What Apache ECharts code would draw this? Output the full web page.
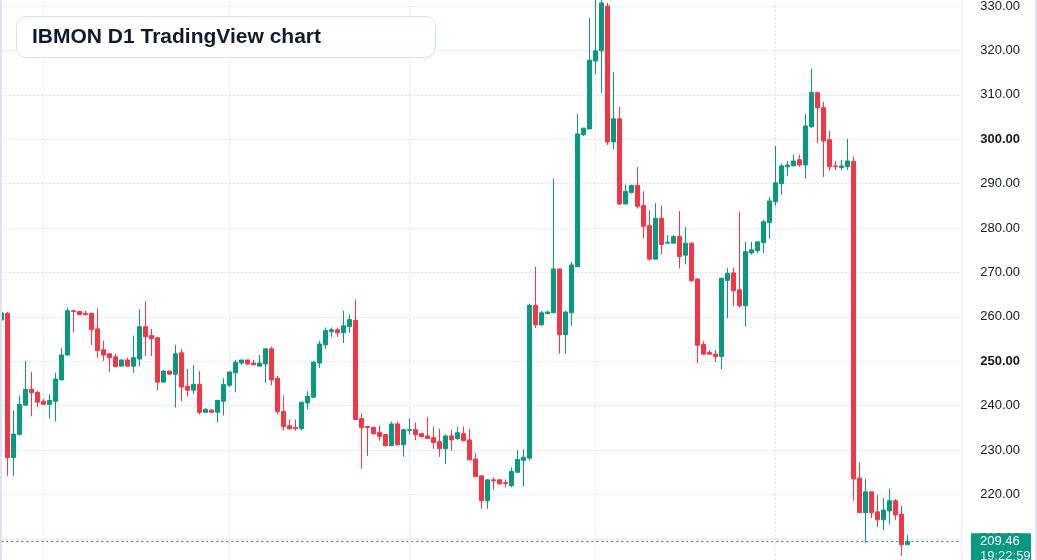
<!DOCTYPE html>
<html>
<head>
<meta charset="utf-8">
<title>IBMON D1 TradingView chart</title>
<script src="https://cdn.jsdelivr.net/npm/echarts@6.0.0/dist/echarts.min.js"></script>
<style>
    html, body { margin: 0; padding: 0; background: #ffffff; }
    #main { width: 1037px; height: 560px; }
</style>
</head>
<body>
<div id="main"></div>
<script>
var chartTitle = 'IBMON D1 TradingView chart';
var firstDay = '2025-07-25';   // first (half hidden) candle
var dayCount = 161;            // candles + empty space on the right
var lastPrice = 209.46;
var countdown = '19:22:59';

// [open, close, low, high]
var candles = [
    [259.3, 260.9, 259.0, 261.2],
    [260.8, 228.3, 224.2, 261.1], [228.3, 233.6, 224.2, 238.9], [233.5, 240.3, 233.3, 242.3], [240.1, 243.7, 240.1, 250.1],
    [243.7, 242.9, 237.6, 247.6], [243.0, 240.8, 239.7, 243.3], [241.0, 240.3, 240.3, 241.5], [240.3, 241.2, 237.1, 242.6],
    [241.0, 246.0, 236.5, 247.4], [245.8, 251.4, 245.8, 253.0], [251.4, 261.4, 251.4, 262.1], [261.4, 261.2, 256.5, 261.4],
    [261.2, 260.5, 260.4, 261.4], [260.8, 260.5, 260.3, 261.4], [260.8, 257.1, 253.7, 260.9], [257.3, 252.4, 250.8, 261.9],
    [252.6, 251.4, 250.1, 254.6], [251.7, 250.8, 247.6, 251.7], [251.0, 248.8, 248.8, 251.7], [248.9, 250.3, 248.9, 250.3],
    [250.3, 248.9, 248.9, 250.8], [248.9, 250.8, 247.4, 255.8], [250.5, 257.8, 248.9, 261.7], [257.8, 255.5, 251.2, 263.5],
    [255.8, 255.1, 251.2, 257.3], [255.3, 245.3, 243.5, 255.5], [245.3, 247.8, 245.3, 248.0], [247.8, 247.1, 246.9, 247.8],
    [247.1, 251.7, 239.6, 253.7], [251.9, 244.2, 241.0, 252.8], [244.4, 243.5, 242.1, 248.3], [243.5, 244.8, 242.6, 249.2],
    [244.8, 238.5, 238.0, 247.8], [238.5, 239.2, 238.5, 239.4], [239.0, 238.5, 238.5, 239.2], [238.5, 241.2, 236.2, 241.2],
    [241.0, 244.8, 237.8, 246.2], [244.6, 247.6, 244.2, 247.6], [247.4, 249.8, 243.0, 250.3], [249.6, 250.3, 249.2, 250.3],
    [250.3, 249.4, 249.2, 250.3], [249.6, 249.2, 249.2, 250.3], [248.9, 249.6, 248.9, 251.4], [249.4, 252.8, 245.1, 252.8],
    [252.8, 245.8, 244.6, 253.3], [246.2, 238.7, 238.0, 246.7], [238.7, 235.3, 234.4, 242.3], [235.5, 234.8, 234.6, 236.9],
    [235.1, 234.8, 234.4, 236.9], [234.8, 240.8, 234.4, 240.8], [240.6, 242.1, 239.2, 243.3], [241.9, 249.8, 241.9, 250.1],
    [249.6, 253.9, 248.5, 254.6], [253.7, 256.9, 252.8, 257.6], [256.7, 257.1, 255.5, 257.6], [257.1, 256.4, 255.5, 257.6],
    [256.4, 258.0, 254.1, 261.4], [257.8, 259.4, 256.4, 260.5], [259.2, 236.9, 236.7, 263.9], [237.1, 235.1, 225.8, 238.3],
    [235.3, 235.1, 228.7, 235.3], [235.1, 233.7, 233.5, 235.3], [234.0, 233.1, 232.1, 235.5], [233.5, 231.0, 230.8, 233.7],
    [231.0, 235.9, 231.0, 236.4], [235.9, 231.2, 231.0, 236.4], [231.2, 234.6, 228.5, 234.8], [234.4, 234.6, 233.5, 237.1],
    [234.6, 233.5, 232.3, 236.2], [233.7, 233.0, 233.0, 233.9], [233.2, 232.6, 232.6, 237.5], [232.8, 231.7, 230.3, 235.3],
    [231.9, 230.3, 228.5, 234.8], [230.3, 233.2, 226.9, 233.5], [233.2, 232.3, 229.8, 234.6], [232.6, 233.9, 232.3, 235.3],
    [233.7, 232.1, 232.1, 235.3], [232.3, 227.8, 227.8, 234.8], [228.0, 224.0, 224.0, 229.4], [224.2, 218.6, 216.8, 224.2],
    [218.6, 223.3, 216.8, 223.5], [223.3, 223.1, 221.1, 223.8], [223.3, 222.4, 222.2, 223.5], [222.7, 222.5, 221.6, 223.4],
    [222.0, 225.2, 221.6, 226.1], [225.0, 227.9, 225.0, 230.0], [227.7, 228.4, 221.8, 230.2], [228.2, 262.6, 227.7, 263.0],
    [262.6, 258.2, 257.5, 271.3], [258.2, 260.9, 258.0, 261.4], [260.7, 261.1, 260.7, 261.4], [260.9, 270.8, 260.9, 291.1],
    [270.8, 256.0, 251.7, 270.8], [256.0, 261.1, 251.7, 261.4], [260.9, 271.7, 258.0, 272.4], [271.3, 301.2, 271.3, 305.7],
    [301.0, 302.5, 300.7, 302.5], [302.3, 317.8, 302.3, 327.3], [317.6, 319.9, 314.7, 331.4], [319.9, 330.7, 310.4, 331.4],
    [330.0, 299.4, 298.7, 330.7], [299.4, 304.6, 297.8, 315.1], [304.6, 285.4, 285.2, 307.3], [285.4, 288.3, 285.4, 289.8],
    [288.0, 289.6, 287.8, 289.8], [289.6, 284.9, 284.4, 293.7], [285.1, 280.4, 277.7, 288.3], [280.6, 273.0, 272.7, 284.0],
    [273.0, 282.2, 273.0, 285.6], [282.2, 276.3, 274.1, 285.1], [276.6, 276.8, 276.6, 278.4], [276.6, 278.1, 276.6, 278.4],
    [278.1, 273.6, 270.9, 283.8], [273.9, 276.6, 271.8, 280.2], [276.6, 268.2, 267.8, 276.8], [268.5, 253.6, 249.6, 268.7],
    [253.8, 251.6, 251.6, 254.5], [252.0, 251.6, 251.6, 252.5], [251.6, 251.1, 249.8, 252.5], [251.1, 268.7, 248.2, 268.7],
    [268.2, 269.8, 259.7, 271.0], [269.9, 265.9, 262.5, 271.1], [266.1, 262.5, 262.1, 283.7], [262.5, 274.7, 257.8, 276.9],
    [274.4, 275.1, 274.0, 276.9], [274.9, 276.9, 274.4, 276.9], [276.7, 281.4, 274.4, 281.9], [281.2, 286.1, 277.6, 287.0],
    [285.9, 290.2, 285.0, 298.5], [290.0, 294.0, 287.5, 294.5], [293.8, 294.2, 291.8, 295.1], [294.0, 295.1, 294.0, 296.5],
    [295.4, 294.2, 293.8, 296.5], [294.2, 303.0, 291.1, 305.7], [302.8, 310.5, 302.6, 315.9], [310.5, 307.1, 299.2, 310.7],
    [307.1, 299.6, 291.5, 308.4], [299.9, 293.8, 292.9, 301.9], [294.0, 293.8, 293.1, 295.1], [293.6, 294.0, 293.1, 295.4],
    [293.8, 295.1, 293.1, 300.1], [295.0, 223.5, 218.6, 296.1], [223.7, 215.9, 215.9, 227.3], [215.9, 220.6, 209.1, 223.5],
    [220.6, 215.9, 214.7, 220.6], [216.1, 214.3, 212.7, 219.9], [214.3, 216.5, 212.0, 219.2], [216.3, 218.6, 213.2, 221.3],
    [218.6, 215.4, 214.3, 219.0], [215.6, 208.7, 206.2, 217.4], [208.7, 209.46, 208.7, 210.9]
];

var upColor = '#089981';
var downColor = '#f23645';
var gridColor = '#dcdfe6';
var textColor = '#131722';
var font = '"Liberation Sans", Arial, sans-serif';

// daily categories, one per candle slot
var dates = [];
var d0 = new Date(firstDay + 'T00:00:00Z');
for (var i = 0; i < dayCount; i++) {
    var d = new Date(d0.getTime() + i * 86400000);
    dates.push(d.toISOString().slice(0, 10));
}

var myChart = echarts.init(document.getElementById('main'), null, { renderer: 'canvas' });

var option = {
    animation: false,
    backgroundColor: '#ffffff',
    grid: {
        left: 1.3,
        right: 75.7,
        top: -38.41,
        bottom: -23.33,
        containLabel: false,
        outerBoundsMode: 'none'
    },
    xAxis: {
        type: 'category',
        data: dates,
        boundaryGap: false,
        axisLine: { show: false },
        axisTick: { show: false },
        axisLabel: { show: false },
        splitLine: {
            show: true,
            interval: function (index, value) { return value.slice(8) === '01'; },
            lineStyle: { color: gridColor, type: [2, 2], width: 1 }
        }
    },
    yAxis: {
        type: 'value',
        position: 'right',
        min: 200,
        max: 340,
        interval: 10,
        axisLine: { show: false },
        axisTick: { show: false },
        splitLine: {
            show: true,
            lineStyle: { color: gridColor, type: [2, 2], width: 1 }
        },
        axisLabel: {
            margin: 19,
            align: 'left',
            fontSize: 13,
            color: textColor,
            fontFamily: font,
            formatter: function (v) {
                var s = v.toFixed(2);
                return v % 50 === 0 ? '{b|' + s + '}' : s;
            },
            rich: {
                b: { fontSize: 13, fontWeight: 'bold', color: textColor, fontFamily: font }
            }
        }
    },
    series: [
        {
            name: 'IBMON',
            type: 'candlestick',
            data: candles,
            barWidth: 4,
            itemStyle: {
                color: upColor,
                color0: downColor,
                borderColor: upColor,
                borderColor0: downColor,
                borderWidth: 1
            },
            markLine: {
                silent: true,
                symbol: ['none', 'none'],
                label: { show: false },
                lineStyle: { color: upColor, type: [2, 3], width: 1, opacity: 1 },
                data: [{ yAxis: lastPrice }]
            }
        }
    ]
};
myChart.setOption(option);

// last price tag on the price scale, placed from the axis scale
var py = myChart.convertToPixel({ yAxisIndex: 0 }, lastPrice);
myChart.setOption({
    graphic: [
        { type: 'rect', z: 100, shape: { x: 0, y: 0, width: 2, height: 560 }, style: { fill: '#e0e3eb' } },
        { type: 'rect', z: 100, shape: { x: 1035, y: 0, width: 2, height: 560 }, style: { fill: '#e0e3eb' } },
        {
            type: 'rect', z: 100,
            shape: { x: 16.5, y: 16.5, width: 419, height: 41, r: 10 },
            style: { fill: '#ffffff', stroke: '#cfdff5', lineWidth: 1 }
        },
        {
            type: 'text', z: 101, x: 32, y: 37,
            style: {
                text: chartTitle, fill: '#0f1a2c',
                fontSize: 21, fontWeight: 'bold', fontFamily: font,
                verticalAlign: 'middle'
            }
        },
        {
            type: 'rect', z: 100,
            shape: { x: 971, y: py - 8, width: 60, height: 34 },
            style: { fill: upColor }
        },
        {
            type: 'text', z: 101, x: 980, y: py,
            style: { text: lastPrice.toFixed(2), fill: '#ffffff', fontSize: 13, fontFamily: font, verticalAlign: 'middle' }
        },
        {
            type: 'text', z: 101, x: 980, y: py + 15,
            style: { text: countdown, fill: '#e6f4f1', fontSize: 13, fontFamily: font, verticalAlign: 'middle' }
        }
    ]
});
</script>
</body>
</html>
